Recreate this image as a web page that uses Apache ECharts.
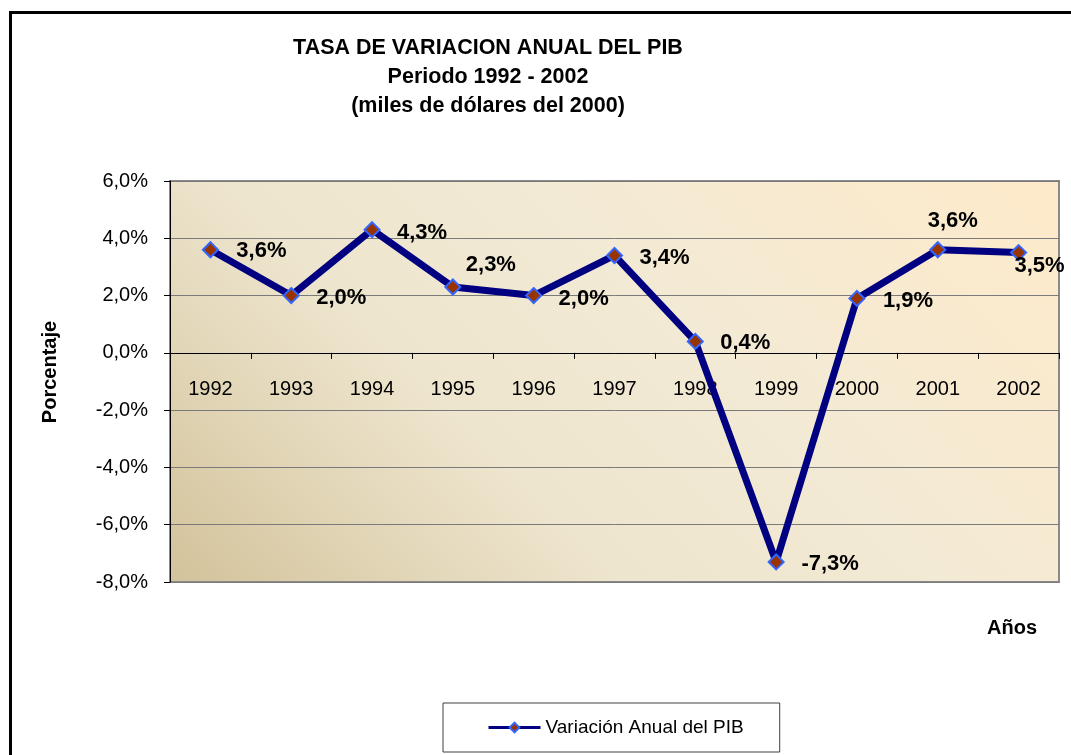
<!DOCTYPE html>
<html>
<head>
<meta charset="utf-8">
<title>Tasa de variación anual del PIB</title>
<script src="https://cdn.jsdelivr.net/npm/echarts@6/dist/echarts.min.js"></script>
<style>
  html, body { margin: 0; padding: 0; background: #fff; }
  #chart { width: 1071px; height: 755px; }
</style>
</head>
<body>
<div id="chart"></div>
<script>
// datos
var years = ['1992', '1993', '1994', '1995', '1996', '1997', '1998', '1999', '2000', '2001', '2002'];
var pibVar = [3.6, 2.0, 4.3, 2.3, 2.0, 3.4, 0.4, -7.3, 1.9, 3.6, 3.5];
var yTicks = { min: -8, max: 6, step: 2 };

// desplazamiento de cada etiqueta respecto a su punto (solo estilo)
var labelOffsets = [[51, 1], [50, 2], [50, 3], [38, -22], [50, 3], [50, 2],
                    [50, 2], [54, 2], [51, 3], [15, -29], [21, 13]];

var FONT = '"Liberation Sans", Arial, sans-serif';

// area de trazado en pixeles
var plot = { left: 170, top: 181, right: 1059, bottom: 582 };

function pct(v) {
  return v.toFixed(1).replace('.', ',') + '%';
}

var chart = echarts.init(document.getElementById('chart'));

var seriesData = pibVar.map(function (v, i) {
  return {
    value: v,
    label: { offset: labelOffsets[i] }
  };
});

// el eje X va sobre el 0: se sube desde el borde inferior
var zeroShift = (plot.bottom - plot.top) * (0 - yTicks.min) / (yTicks.max - yTicks.min);

var option = {
  animation: false,
  backgroundColor: '#fff',
  title: {
    text: 'TASA DE VARIACION ANUAL DEL PIB\nPeriodo 1992 - 2002\n(miles de dólares del 2000)',
    left: 483,
    top: 29,
    textAlign: 'center',
    textStyle: {
      fontFamily: FONT,
      fontSize: 21.5,
      fontWeight: 'bold',
      color: '#000',
      lineHeight: 29,
      align: 'center'
    }
  },
  legend: {
    left: 443,
    top: 703,
    padding: [15, 36, 15, 44],
    borderColor: '#404040',
    borderWidth: 1,
    itemWidth: 52,
    itemHeight: 12,
    itemGap: 5,
    lineStyle: { width: 3 },
    textStyle: { fontFamily: FONT, fontSize: 19, color: '#000' },
    data: ['Variación Anual del PIB']
  },
  grid: {
    left: plot.left,
    top: plot.top,
    right: 1071 - plot.right,
    bottom: 755 - plot.bottom,
    show: true,
    borderColor: '#8a8a8a',
    borderWidth: 2,
    backgroundColor: {
      type: 'linear',
      global: true,
      x: plot.left, y: plot.bottom, x2: 815, y2: -63,
      colorStops: [
        { offset: 0, color: '#d3c29a' },
        { offset: 0.18, color: '#e1d5b6' },
        { offset: 0.35, color: '#eee5ce' },
        { offset: 0.6, color: '#f3ead5' },
        { offset: 1, color: '#feeaca' }
      ]
    }
  },
  xAxis: {
    type: 'category',
    data: years,
    boundaryGap: true,
    offset: -zeroShift,
    axisLine: { show: true, onZero: false, lineStyle: { color: '#000', width: 1 } },
    axisTick: { show: true, length: 6, lineStyle: { color: '#000' } },
    axisLabel: { margin: 27, fontFamily: FONT, fontSize: 20, color: '#000' },
    splitLine: { show: false }
  },
  yAxis: {
    type: 'value',
    min: yTicks.min,
    max: yTicks.max,
    interval: yTicks.step,
    axisLine: { show: true, lineStyle: { color: '#000', width: 1 } },
    axisTick: { show: true, length: 6, lineStyle: { color: '#000' } },
    axisLabel: {
      margin: 22,
      fontFamily: FONT,
      fontSize: 20,
      color: '#000',
      formatter: function (v) { return pct(v); }
    },
    splitLine: { show: true, lineStyle: { color: '#7a7a7a', width: 1 } }
  },
  graphic: [
    {
      type: 'rect',
      shape: { x: 10.5, y: 12.5, width: 1100, height: 800 },
      style: { fill: 'none', stroke: '#000', lineWidth: 3 },
      z: 100
    },
    {
      type: 'text',
      x: 50,
      y: 372,
      rotation: Math.PI / 2,
      style: {
        text: 'Porcentaje',
        fontFamily: FONT,
        fontSize: 20,
        fontWeight: 'bold',
        fill: '#000',
        align: 'center',
        verticalAlign: 'middle'
      }
    },
    {
      type: 'text',
      x: 1012,
      y: 628,
      style: {
        text: 'Años',
        fontFamily: FONT,
        fontSize: 20,
        fontWeight: 'bold',
        fill: '#000',
        align: 'center',
        verticalAlign: 'middle'
      }
    }
  ],
  series: [
    {
      name: 'Variación Anual del PIB',
      type: 'line',
      data: seriesData,
      symbol: 'diamond',
      symbolSize: 15,
      lineStyle: { color: '#000080', width: 7 },
      itemStyle: { color: '#993300', borderColor: '#3366ff', borderWidth: 2 },
      label: {
        show: true,
        position: 'inside',
        fontFamily: FONT,
        fontSize: 22,
        fontWeight: 'bold',
        color: '#000',
        formatter: function (p) { return pct(p.value); }
      },
      z: 5
    }
  ]
};

chart.setOption(option);
</script>
</body>
</html>
